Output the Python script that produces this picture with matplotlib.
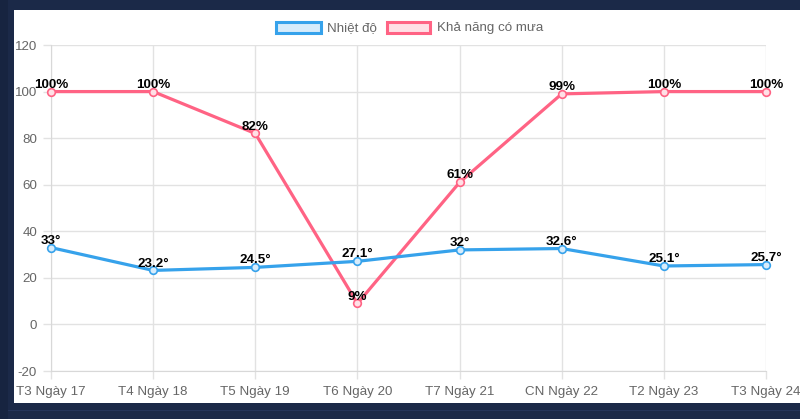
import matplotlib
matplotlib.use("Agg")
import matplotlib.pyplot as plt
from matplotlib.patches import Rectangle

categories = ["T3 Ngày 17", "T4 Ngày 18", "T5 Ngày 19", "T6 Ngày 20",
              "T7 Ngày 21", "CN Ngày 22", "T2 Ngày 23", "T3 Ngày 24"]
temperature = [33, 23.2, 24.5, 27.1, 32, 32.6, 25.1, 25.7]
rain_chance = [100, 100, 82, 9, 61, 99, 100, 100]
y_ticks = [-20, 0, 20, 40, 60, 80, 100, 120]
series_names = ["Nhiệt độ", "Khả năng có mưa"]

BLUE = "#36a2eb"
BLUE_FILL = "#d7ecfb"
PINK = "#ff6384"
PINK_FILL = "#ffe0e6"
GRID = "#e2e2e2"
TXT = "#666666"
NAVY = "#1b2948"

plt.rcParams['font.family'] = ['Liberation Sans', 'DejaVu Sans']
plt.rcParams['axes.unicode_minus'] = False

W, H = 800, 419
fig = plt.figure(figsize=(W / 100, H / 100), dpi=100, facecolor=NAVY)

def fx(px):
    return px / W

def fy(py):
    return 1 - py / H

# card background
fig.add_artist(Rectangle((0, 0), fx(8), 1, transform=fig.transFigure,
                         facecolor="#172440", edgecolor="none", zorder=0))
fig.add_artist(Rectangle((fx(8), fy(411)), 1, fy(410) - fy(411), transform=fig.transFigure,
                         facecolor="#24345a", edgecolor="none", zorder=0))
fig.add_artist(Rectangle((fx(14), fy(403)), fx(800) - fx(14), fy(10) - fy(403),
                         transform=fig.transFigure, facecolor="white",
                         edgecolor="none", zorder=0))

ax = fig.add_axes([fx(51), fy(371), fx(766) - fx(51), fy(45) - fy(371)])
ax.set_facecolor("none")
x = list(range(len(categories)))

ax.plot(x, rain_chance, color=PINK, lw=2.3, marker="o", ms=5.5, mfc=PINK_FILL,
        mec=PINK, mew=1.2, zorder=3, clip_on=False)
ax.plot(x, temperature, color=BLUE, lw=2.3, marker="o", ms=5.5, mfc=BLUE_FILL,
        mec=BLUE, mew=1.2, zorder=4, clip_on=False)

for xi, v in zip(x, temperature):
    ax.annotate(f"{v:g}°", (xi, v), xytext=(0, 2.8), textcoords="offset points",
                ha="center", va="baseline", fontsize=9.6, fontweight="bold",
                color="black", zorder=6, annotation_clip=False)
for xi, v in zip(x, rain_chance):
    ax.annotate(f"{v:g}%", (xi, v), xytext=(0, 2.8), textcoords="offset points",
                ha="center", va="baseline", fontsize=9.6, fontweight="bold",
                color="black", zorder=6, annotation_clip=False)

ax.set_xlim(0, len(categories) - 1)
ax.set_ylim(-20, 120)
ax.set_xticks(x)
ax.set_xticklabels(categories)
ax.set_yticks(y_ticks)
ax.grid(True, color=GRID, lw=1)
ax.set_axisbelow(True)
for s in ax.spines.values():
    s.set_visible(False)
ax.spines["left"].set_visible(True)
ax.spines["bottom"].set_visible(True)
ax.spines["left"].set_color("#d8d8d8")
ax.spines["bottom"].set_color("#d8d8d8")
ax.tick_params(axis="both", colors=GRID, labelcolor=TXT, labelsize=9.6,
               length=6, width=1)
ax.tick_params(axis="x", pad=5)
ax.tick_params(axis="y", pad=4)

# legend
boxes = [(275.5, 320.5, BLUE, BLUE_FILL, 327), (386.5, 430.5, PINK, PINK_FILL, 437)]
for (x0, x1, ec, fc, tx), name in zip(boxes, series_names):
    fig.add_artist(Rectangle((fx(x0), fy(33.5)), fx(x1) - fx(x0), fy(22.5) - fy(33.5),
                             transform=fig.transFigure, facecolor=fc, edgecolor=ec,
                             lw=2.2, zorder=5))
    fig.text(fx(tx), fy(28), name, ha="left", va="center", fontsize=9.6, color=TXT)

fig.savefig("out.png", dpi=100, facecolor=NAVY)
